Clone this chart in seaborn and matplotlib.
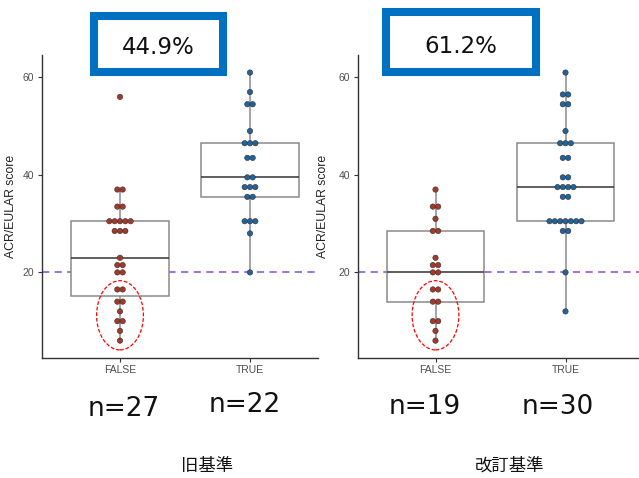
import numpy as np
import pandas as pd
import matplotlib
matplotlib.use('Agg')
import matplotlib.pyplot as plt
from matplotlib.patches import Ellipse, Rectangle
import seaborn as sns

# data
groups = ['FALSE', 'TRUE']
old_false = [56, 37, 37, 33.5, 33.5, 30.5, 30.5, 30.5, 30.5, 30.5, 28.5, 28.5, 28.5,
             23, 21.5, 21.5, 20, 20, 16.5, 16.5, 14, 14, 12, 10, 10, 8, 6]
old_true = [61, 57, 54.5, 54.5, 49, 46.5, 46.5, 46.5, 43.5, 43.5, 39.5, 39.5,
            37.5, 37.5, 37.5, 35.5, 35.5, 30.5, 30.5, 30.5, 28, 20]
new_false = [37, 33.5, 33.5, 31, 28.5, 28.5, 23, 21.5, 21.5, 20, 20, 16.5, 16.5,
             14, 14, 10, 10, 8, 6]
new_true = [61, 56.5, 56.5, 54.5, 54.5, 49, 46.5, 46.5, 46.5, 43.5, 43.5, 39.5, 39.5,
            37.5, 37.5, 37.5, 37.5, 35.5, 35.5, 30.5, 30.5, 30.5, 30.5, 30.5, 30.5, 30.5,
            28.5, 28.5, 20, 12]
pct_labels = ['44.9%', '61.2%']
panel_titles = ['旧基準', '改訂基準']
threshold = 20

sns.set_theme(style='ticks')
plt.rcParams['font.family'] = ['Liberation Sans', 'DejaVu Sans']

W, H = 639, 478
fig = plt.figure(figsize=(W / 100, H / 100), dpi=100)


def fx(px):
    return px / W


def fy(py):
    return 1 - py / H


palette = {'FALSE': '#a03a2c', 'TRUE': '#1d659c'}
DOT = 0.041  # dot diameter in x data units (centre-stacked like a dotplot)


def stack(df):
    # centred stacking of equal values, like ggplot geom_dotplot(stackdir='center')
    pos = df['group'].map({g: i for i, g in enumerate(groups)}).astype(float)
    rank = df.groupby(['group', 'score']).cumcount()
    cnt = df.groupby(['group', 'score'])['score'].transform('size')
    return pos + (rank - (cnt - 1) / 2) * DOT


def draw_panel(ax, fals, trues, xmax):
    df = pd.DataFrame({
        'group': ['FALSE'] * len(fals) + ['TRUE'] * len(trues),
        'score': fals + trues,
    })
    df['xpos'] = stack(df)
    sns.boxplot(data=df, x='group', y='score', order=groups, width=0.75,
                showfliers=False, showcaps=False, ax=ax,
                boxprops=dict(facecolor='white', edgecolor='#8a8a8a', linewidth=1.1),
                whiskerprops=dict(color='#8a8a8a', linewidth=1.1),
                medianprops=dict(color='#333333', linewidth=1.1))
    ax.axhline(threshold, color='#9966dd', linestyle=(0, (4, 3)), linewidth=1.3, zorder=1.5)
    sns.scatterplot(data=df, x='xpos', y='score', hue='group', palette=palette,
                    s=15, edgecolor='#3a2a2a', linewidth=0.4, legend=False, ax=ax, zorder=3)
    ax.add_patch(Ellipse((0, 11.2), width=0.36, height=14.2, fill=False,
                         edgecolor='red', linestyle=(0, (3, 1.5)), linewidth=0.9, zorder=4))
    ax.set_xlim(-0.6, xmax)
    ax.set_ylim(2.5, 64.6)
    ax.set_xticks([0, 1], groups)
    ax.set_yticks([20, 40, 60])
    ax.set_xlabel('')
    ax.set_ylabel('ACR/EULAR score', fontsize=8.8, color='#222222')
    ax.tick_params(labelsize=7.5, labelcolor='#4d4d4d', length=3, width=0.8,
                   color='#333333', pad=2.5)
    sns.despine(ax=ax)
    for s in ['left', 'bottom']:
        ax.spines[s].set_color('#333333')
        ax.spines[s].set_linewidth(1.0)


ax1 = fig.add_axes([fx(42), fy(357.7), fx(276), (357.7 - 55) / H])
draw_panel(ax1, old_false, old_true, -0.6 + 276 / 130)
ax1.yaxis.set_label_coords(-0.09, 0.5)

ax2 = fig.add_axes([fx(357.5), fy(357.7), fx(281.5), (357.7 - 55) / H])
draw_panel(ax2, new_false, new_true, -0.6 + 281.5 / 130)
ax2.yaxis.set_label_coords(-0.10, 0.5)

# blue framed percentages
for (x0, y0, x1, y1), lab in zip([(94, 15.5, 223, 72), (386, 12, 536, 72.5)], pct_labels):
    fig.add_artist(Rectangle((fx(x0), fy(y1)), fx(x1 - x0), (y1 - y0) / H,
                             transform=fig.transFigure, facecolor='white',
                             edgecolor='#0070c0', linewidth=5.8))
    fig.text(fx((x0 + x1) / 2), fy((y0 + y1) / 2 + 4), lab, ha='center', va='center',
             fontsize=16.5, family='DejaVu Sans', color='#111111')

# n labels under each group
n_pos = [(124, 409), (245, 405), (425, 407), (558, 407)]
n_vals = [len(old_false), len(old_true), len(new_false), len(new_true)]
for (x, y), n in zip(n_pos, n_vals):
    fig.text(fx(x), fy(y), f'n={n}', ha='center', va='center', fontsize=19,
             family='DejaVu Sans', color='#111111')

for x, t in zip([207, 510], panel_titles):
    fig.text(fx(x), fy(466), t, ha='center', va='center', fontsize=12.5,
             family=['Noto Sans CJK JP', 'DejaVu Sans'], color='#111111')

fig.savefig('out.png', dpi=100)
